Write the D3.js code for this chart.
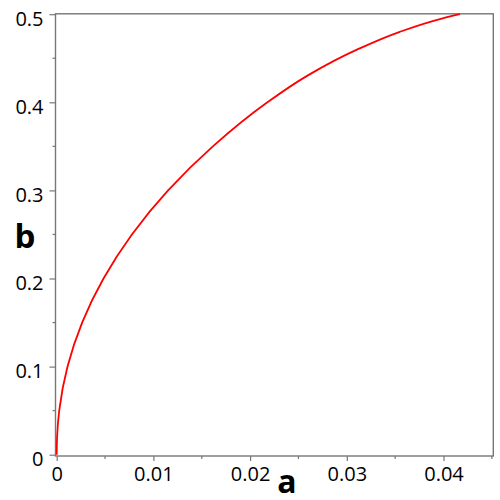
<!DOCTYPE html>
<html>
<head>
<meta charset="utf-8">
<script src="https://cdn.jsdelivr.net/npm/d3@7"></script>
<style>
  body { margin: 0; background: #fff; }
  text { font-family: "Open Sans", "Noto Sans", sans-serif; }
</style>
</head>
<body>
<div id="chart"></div>
<script>
// curve values (b against a)
const bValues = [0, 0.02, 0.05, 0.1, 0.15, 0.2, 0.25, 0.3, 0.35, 0.4, 0.43, 0.46, 0.48, 0.495, 0.5];
const aValues = [0, 0.00004, 0.00026, 0.00112, 0.00263, 0.00484, 0.00778, 0.01152, 0.01615, 0.02179, 0.02589, 0.0311, 0.03548, 0.03982, 0.0417];

const xMajor = [0, 0.01, 0.02, 0.03, 0.04];
const xLabels = ["0", "0.01", "0.02", "0.03", "0.04"];
const yMajor = [0, 0.1, 0.2, 0.3, 0.4, 0.5];
const yLabels = ["0", "0.1", "0.2", "0.3", "0.4", "0.5"];

const width = 500,
  height = 500;

const points = aValues.map((a, i) => ({ a: a, b: bValues[i] }));

const x = d3.scaleLinear().domain([0, 0.04515]).range([56.7, 493.3]);
const y = d3.scaleLinear().domain([0, 0.5]).range([454.7, 14.2]);

const axisColor = "#777";

const svg = d3
  .select("#chart")
  .append("svg")
  .attr("width", width)
  .attr("height", height);

// frame
svg
  .append("rect")
  .attr("x", 55.5)
  .attr("y", 13.8)
  .attr("width", 493.3 - 55.5)
  .attr("height", 456 - 13.8)
  .attr("fill", "none")
  .attr("stroke", axisColor)
  .attr("stroke-width", 1.4);

//Bottom axis
const xAxis = d3
  .axisBottom(x)
  .tickValues(xMajor)
  .tickSize(5)
  .tickPadding(6)
  .tickFormat((d, i) => xLabels[i]);

const gx = svg.append("g").attr("transform", "translate(0,456)").call(xAxis);
gx.select(".domain").remove();
gx.selectAll("line").attr("stroke", axisColor).attr("stroke-width", 1.2);
gx.selectAll("text")
  .attr("fill", "#000")
  .style("font-size", "20px");

const xMinor = d3.range(0.005, 0.046, 0.01);
svg
  .append("g")
  .selectAll("line")
  .data(xMinor)
  .join("line")
  .attr("x1", (d) => x(d))
  .attr("x2", (d) => x(d))
  .attr("y1", 456)
  .attr("y2", 459)
  .attr("stroke", axisColor)
  .attr("stroke-width", 1.2);

//Left axis
const yAxis = d3
  .axisLeft(y)
  .tickValues(yMajor)
  .tickSize(6)
  .tickPadding(6)
  .tickFormat((d, i) => yLabels[i]);

const gy = svg.append("g").attr("transform", "translate(55.5,0)").call(yAxis);
gy.select(".domain").remove();
gy.selectAll("line").attr("stroke", axisColor).attr("stroke-width", 1.2);
gy.selectAll("text")
  .attr("fill", "#000")
  .attr("dy", "0.55em")
  .style("font-size", "20px");

const yMinor = d3.range(0.05, 0.5, 0.1);
svg
  .append("g")
  .selectAll("line")
  .data(yMinor)
  .join("line")
  .attr("x1", 52.5)
  .attr("x2", 55.5)
  .attr("y1", (d) => y(d))
  .attr("y2", (d) => y(d))
  .attr("stroke", axisColor)
  .attr("stroke-width", 1.2);

// the curve
const line = d3
  .line()
  .x((d) => x(d.a))
  .y((d) => y(d.b))
  .curve(d3.curveMonotoneY);

svg
  .append("path")
  .datum(points)
  .attr("d", line)
  .attr("fill", "none")
  .attr("stroke", "#ff0000")
  .attr("stroke-width", 1.8);

// axis titles
svg
  .append("text")
  .attr("x", 25)
  .attr("y", 248)
  .attr("text-anchor", "middle")
  .style("font-size", "33px")
  .style("font-weight", "bold")
  .text("b");

svg
  .append("text")
  .attr("x", 287)
  .attr("y", 493)
  .attr("text-anchor", "middle")
  .style("font-size", "32px")
  .style("font-weight", "bold")
  .text("a");
</script>
</body>
</html>
